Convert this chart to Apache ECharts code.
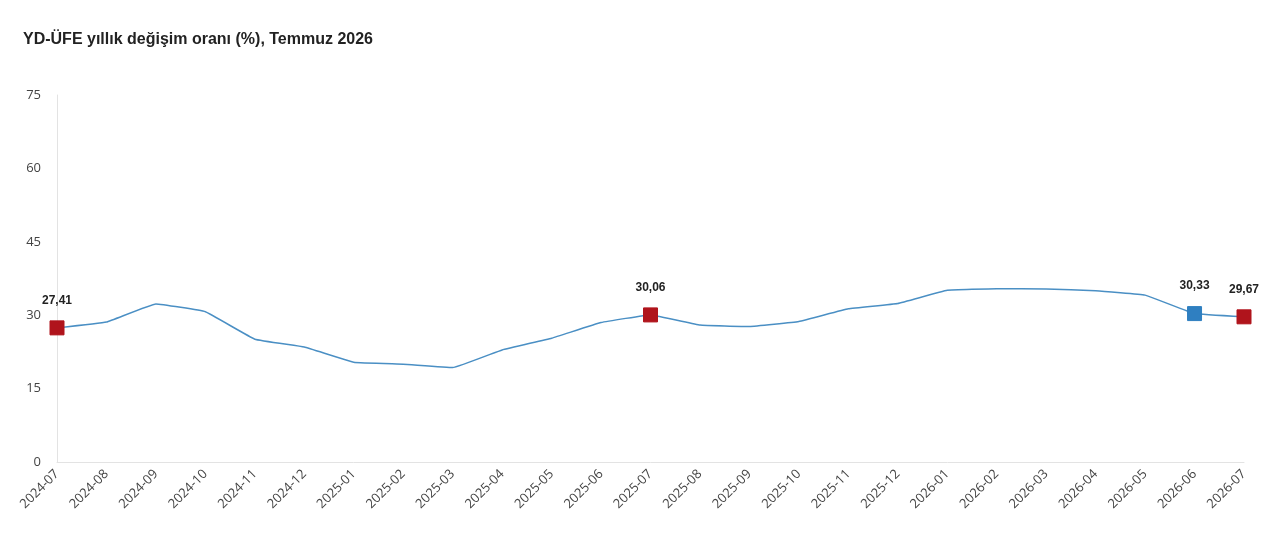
<!DOCTYPE html>
<html>
<head>
<meta charset="utf-8">
<script src="https://cdn.jsdelivr.net/npm/echarts@6/dist/echarts.min.js"></script>
<style>
    html, body { margin: 0; padding: 0; background: #fff; }
    #chart { width: 1280px; height: 542px; }
</style>
</head>
<body>
<div id="chart"></div>
<script>
var months = ['2024-07', '2024-08', '2024-09', '2024-10', '2024-11', '2024-12',
    '2025-01', '2025-02', '2025-03', '2025-04', '2025-05', '2025-06',
    '2025-07', '2025-08', '2025-09', '2025-10', '2025-11', '2025-12',
    '2026-01', '2026-02', '2026-03', '2026-04', '2026-05', '2026-06', '2026-07'];
var rates = [27.41, 28.6, 32.3, 30.7, 25.1, 23.5,
    20.4, 20.0, 19.3, 22.9, 25.3, 28.5,
    30.06, 28.0, 27.7, 28.7, 31.3, 32.4,
    35.1, 35.4, 35.35, 35.0, 34.1, 30.33, 29.67];
// highlighted months: July of each year in red, previous month in blue
var redMonths = ['2024-07', '2025-07', '2026-07'];
var blueMonths = ['2026-06'];

var seriesData = rates.map(function (v, i) {
    var m = months[i];
    var color = null;
    if (redMonths.indexOf(m) >= 0) color = '#b0141c';
    if (blueMonths.indexOf(m) >= 0) color = '#2f7fc1';
    if (!color) return v;
    return {
        value: v,
        symbol: 'rect',
        symbolSize: 14,
        itemStyle: { color: color, borderColor: color },
        label: {
            show: true,
            position: 'top',
            distance: 14,
            fontWeight: 'bold',
            fontSize: 12,
            color: '#222',
            fontFamily: 'Liberation Sans, Arial, sans-serif',
            formatter: function (p) { return p.value.toFixed(2).replace('.', ','); }
        }
    };
});

var chart = echarts.init(document.getElementById('chart'));
chart.setOption({
    animation: false,
    title: {
        text: 'YD-ÜFE yıllık değişim oranı (%), Temmuz 2026',
        left: 18,
        top: 27,
        textStyle: { fontSize: 16, fontWeight: 'bold', color: '#222', fontFamily: 'Liberation Sans, Arial, sans-serif' }
    },
    grid: { left: 57, right: 36, top: 95, bottom: 80 },
    xAxis: {
        type: 'category',
        data: months,
        boundaryGap: false,
        axisLine: { lineStyle: { color: '#e3e3e3' } },
        axisTick: { show: false },
        axisLabel: { rotate: 45, color: '#444', fontSize: 13, margin: 10, interval: 0, fontFamily: 'Open Sans, sans-serif' }
    },
    yAxis: {
        type: 'value',
        min: 0,
        max: 75,
        interval: 15,
        axisLine: { show: true, lineStyle: { color: '#e3e3e3' } },
        axisTick: { show: false },
        splitLine: { show: false },
        axisLabel: { color: '#444', fontSize: 13, margin: 16, fontFamily: 'Open Sans, sans-serif' }
    },
    series: [{
        type: 'line',
        data: seriesData,
        smooth: 0.08,
        showSymbol: true,
        symbol: 'none',
        lineStyle: { color: '#4a8fc4', width: 1.5 },
        itemStyle: { color: '#4a8fc4' }
    }]
});
</script>
</body>
</html>
